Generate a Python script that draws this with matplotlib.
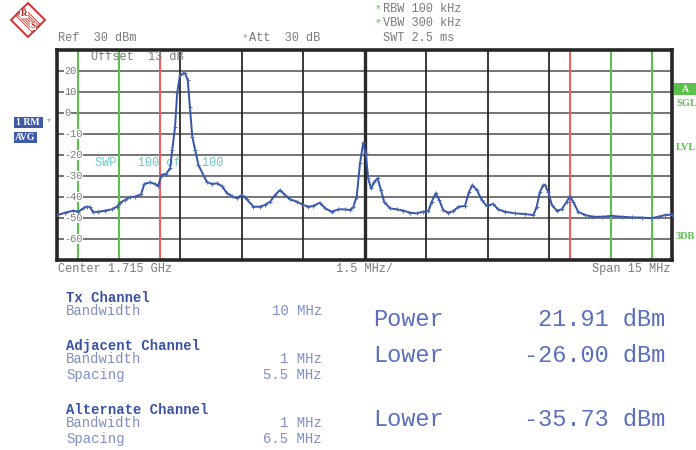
import matplotlib
matplotlib.use('Agg')
import matplotlib.pyplot as plt
from matplotlib.patches import Polygon, Rectangle
from matplotlib.lines import Line2D

W, H = 696, 450

# ---- data (offset from center 1.715 GHz in MHz, level in dBm) ----
freq_offset_mhz = [-7.50, -7.30, -7.10, -6.98, -6.86, -6.78, -6.70, -6.61, -6.49, -6.33,
                   -6.17, -6.04, -5.96, -5.84, -5.71, -5.59, -5.45, -5.37, -5.23, -5.11,
                   -5.03, -4.95, -4.84, -4.74, -4.69, -4.62, -4.57, -4.50, -4.42, -4.38,
                   -4.31, -4.26, -4.20, -4.13, -4.05, -3.93, -3.85, -3.73, -3.60, -3.48,
                   -3.36, -3.24, -3.12, -2.99, -2.87, -2.71, -2.55, -2.43, -2.30, -2.18,
                   -2.06, -1.94, -1.82, -1.65, -1.49, -1.37, -1.25, -1.09, -0.96, -0.80,
                   -0.64, -0.48, -0.35, -0.27, -0.19, -0.11, -0.03, 0.03, 0.09, 0.16,
                   0.24, 0.32, 0.40, 0.48, 0.62, 0.79, 0.95, 1.11, 1.27, 1.43,
                   1.56, 1.64, 1.74, 1.82, 1.92, 2.04, 2.17, 2.29, 2.45, 2.55,
                   2.63, 2.74, 2.86, 2.98, 3.14, 3.26, 3.43, 3.67, 3.91, 4.12,
                   4.20, 4.28, 4.36, 4.40, 4.48, 4.57, 4.69, 4.81, 4.93, 5.01,
                   5.09, 5.21, 5.38, 5.58, 5.79, 6.03, 6.27, 6.52, 6.76, 7.00,
                   7.17, 7.33, 7.45, 7.50]
level_dbm = [-48.6, -47.5, -46.5, -47.0, -45.4, -44.6, -44.9, -47.3, -47.0, -46.5,
             -45.9, -44.6, -42.7, -41.4, -40.1, -39.8, -38.7, -33.8, -33.0, -33.8,
             -34.6, -29.5, -29.0, -26.3, -17.6, -6.5, 9.4, 18.1, 18.9, 18.9,
             15.7, 3.0, -11.3, -17.6, -24.8, -29.5, -32.7, -33.8, -33.5, -34.8,
             -38.0, -39.5, -40.6, -39.0, -41.1, -44.6, -44.6, -43.8, -42.2, -39.0,
             -36.7, -39.0, -41.1, -42.2, -43.8, -44.6, -44.3, -42.7, -45.4, -47.0,
             -45.9, -45.9, -46.2, -44.6, -39.8, -24.0, -14.1, -19.2, -31.1, -35.9,
             -32.7, -31.1, -36.7, -42.2, -45.4, -45.9, -46.5, -47.5, -47.8, -47.0,
             -46.7, -42.2, -38.2, -41.4, -46.2, -47.5, -46.7, -44.6, -44.3, -37.5,
             -34.3, -36.7, -41.4, -44.3, -43.3, -45.9, -47.0, -47.8, -48.1, -48.6,
             -44.6, -37.5, -34.3, -34.3, -37.5, -43.8, -46.5, -45.9, -42.2, -39.8,
             -42.2, -47.0, -48.6, -49.4, -49.4, -49.0, -49.4, -49.7, -49.8, -50.1,
             -49.4, -48.6, -48.4, -48.4]

y_ticks = [20, 10, 0, -10, -20, -30, -40, -50, -60]
x_grid = [-6.0, -4.5, -3.0, -1.5, 0.0, 1.5, 3.0, 4.5, 6.0]
green_limits = [-7.0, -6.0, 6.0, 7.0]     # alternate / adjacent channel limits
red_limits = [-5.0, 5.0]                  # Tx channel limits

tx_rows = [("Tx Channel", None), ("Bandwidth", "10 MHz")]
adj_rows = [("Adjacent Channel", None), ("Bandwidth", "1 MHz"), ("Spacing", "5.5 MHz")]
alt_rows = [("Alternate Channel", None), ("Bandwidth", "1 MHz"), ("Spacing", "6.5 MHz")]
results = [("Power", "21.91 dBm"), ("Lower", "-26.00 dBm"), ("Lower", "-35.73 dBm")]

MONO = 'Liberation Mono'
GRAY = '#7a7a7a'
BLUE_D = '#3a52a4'
BLUE_L = '#8190c8'
BLUE_M = '#5b70bc'
GREEN = '#5cc04c'
RED = '#f06060'
TEAL = '#6cc8c8'

fig = plt.figure(figsize=(W / 100, H / 100), dpi=100)


def fx(px):
    return px / W


def fy(py):
    return 1 - py / H


ax = fig.add_axes([fx(57), fy(260), 615 / W, 210 / H])
ax.set_xlim(-7.5, 7.5)
ax.set_ylim(-70, 30)
ax.set_xticks([])
ax.set_yticks([])
for s in ax.spines.values():
    s.set_linewidth(2.6)
    s.set_color('#262626')

for y in y_ticks:
    ax.axhline(y, color='#6a6a6a', lw=1.3, zorder=1)
for x in x_grid:
    ax.axvline(x, color='#2a2a2a', lw=2.4 if x == 0 else 1.3, zorder=1)
for x in green_limits:
    ax.axvline(x, color=GREEN, lw=1.5, zorder=2)
for x in red_limits:
    ax.axvline(x, color=RED, lw=1.5, zorder=2)

for y in y_ticks:
    ax.text(-7.33, y, str(y), fontsize=7.4, family=MONO, color=GRAY,
            ha='left', va='center', zorder=3,
            bbox=dict(facecolor='white', edgecolor='none', pad=0.3))

ax.text(0.055, 0.965, "Offset  13 dB", transform=ax.transAxes, fontsize=8.6,
        family=MONO, color=GRAY, ha='left', va='center', zorder=3)
ax.text(0.062, 0.462, "SWP   100 of   100", transform=ax.transAxes, fontsize=8.6,
        family=MONO, color=TEAL, ha='left', va='center', zorder=3)

ax.plot(freq_offset_mhz, level_dbm, color='#3553a8', lw=1.4, zorder=5,
        marker='+', markersize=3, mew=0.7, markeredgecolor='#4a68b8')

# ---- header texts ----
fig.text(fx(58), fy(38), "Ref  30 dBm", fontsize=8.6, family=MONO, color=GRAY, va='center')
fig.text(fx(242), fy(38), "*", fontsize=8, family=MONO, color=GREEN, va='center')
fig.text(fx(249), fy(38), "Att  30 dB", fontsize=8.6, family=MONO, color=GRAY, va='center')
fig.text(fx(375), fy(9), "*", fontsize=8, family=MONO, color=GREEN, va='center')
fig.text(fx(383), fy(9), "RBW 100 kHz", fontsize=8.6, family=MONO, color=GRAY, va='center')
fig.text(fx(375), fy(23), "*", fontsize=8, family=MONO, color=GREEN, va='center')
fig.text(fx(383), fy(23), "VBW 300 kHz", fontsize=8.6, family=MONO, color=GRAY, va='center')
fig.text(fx(383), fy(38), "SWT 2.5 ms", fontsize=8.6, family=MONO, color=GRAY, va='center')

fig.text(fx(58), fy(269), "Center 1.715 GHz", fontsize=8.6, family=MONO, color=GRAY, va='center')
fig.text(fx(365), fy(269), "1.5 MHz/", fontsize=8.6, family=MONO, color=GRAY, va='center', ha='center')
fig.text(fx(670), fy(269), "Span 15 MHz", fontsize=8.6, family=MONO, color=GRAY, va='center', ha='right')

# ---- left trace labels ----
fig.add_artist(Rectangle((fx(14), fy(128)), 29 / W, 11 / H, transform=fig.transFigure,
                         facecolor='#3e5aa8', edgecolor='none'))
fig.text(fx(16), fy(122.5), "1 RM", fontsize=7, family='Liberation Serif', weight='bold',
         color='white', va='center')
fig.add_artist(Rectangle((fx(14), fy(143)), 23 / W, 11 / H, transform=fig.transFigure,
                         facecolor='#3e5aa8', edgecolor='none'))
fig.text(fx(15), fy(137.5), "AVG", fontsize=7, family='Liberation Serif', weight='bold',
         color='white', va='center')
fig.text(fx(46), fy(122), "*", fontsize=7, family=MONO, color=GREEN, va='center')

# ---- right side labels ----
fig.add_artist(Rectangle((fx(674), fy(95)), 22 / W, 12 / H, transform=fig.transFigure,
                         facecolor=GREEN, edgecolor='none'))
fig.text(fx(685), fy(89), "A", fontsize=7, family='Liberation Serif', weight='bold',
         color='white', va='center', ha='center')
for lbl, py in [("SGL", 103), ("LVL", 148), ("3DB", 237)]:
    fig.text(fx(676), fy(py), lbl, fontsize=7.5, family='Liberation Serif', weight='bold',
             color=GREEN, va='center')

# ---- R&S logo ----
cx, cy, r = 28, 20, 17
diamond = [(fx(cx), fy(cy - r)), (fx(cx + r), fy(cy)), (fx(cx), fy(cy + r)), (fx(cx - r), fy(cy))]
fig.add_artist(Polygon(diamond, closed=True, transform=fig.transFigure,
                       facecolor='white', edgecolor='#d83030', lw=1.4))
for k in range(-3, 4):
    d = k * 1.3
    fig.add_artist(Line2D([fx(cx - 9 + d), fx(cx + 9 + d)], [fy(cy - 9 - d), fy(cy + 9 - d)],
                          transform=fig.transFigure, color='#d83030', lw=0.6))
fig.text(fx(24), fy(14), "R", fontsize=6.5, family='Liberation Serif', weight='bold',
         color='#c02020', ha='center', va='center',
         bbox=dict(facecolor='white', edgecolor='none', pad=0.2))
fig.text(fx(33), fy(26), "S", fontsize=6.5, family='Liberation Serif', weight='bold',
         color='#c02020', ha='center', va='center',
         bbox=dict(facecolor='white', edgecolor='none', pad=0.2))

# ---- bottom channel table ----
row_y = [[298, 311], [346, 359, 375], [410, 423, 439]]
for rows, ys in zip([tx_rows, adj_rows, alt_rows], row_y):
    for (name, val), py in zip(rows, ys):
        if val is None:
            fig.text(fx(66), fy(py), name, fontsize=10, family=MONO, weight='bold',
                     color=BLUE_D, va='center')
        else:
            fig.text(fx(66), fy(py), name, fontsize=10, family=MONO, color=BLUE_L, va='center')
            fig.text(fx(322), fy(py), val, fontsize=10, family=MONO, color=BLUE_L,
                     va='center', ha='right')

for (name, val), py in zip(results, [319, 356, 419]):
    fig.text(fx(373), fy(py), name, fontsize=17, family=MONO, color=BLUE_M, va='center')
    fig.text(fx(665), fy(py), val, fontsize=17, family=MONO, color=BLUE_M, va='center', ha='right')

fig.savefig('out.png', dpi=100)
